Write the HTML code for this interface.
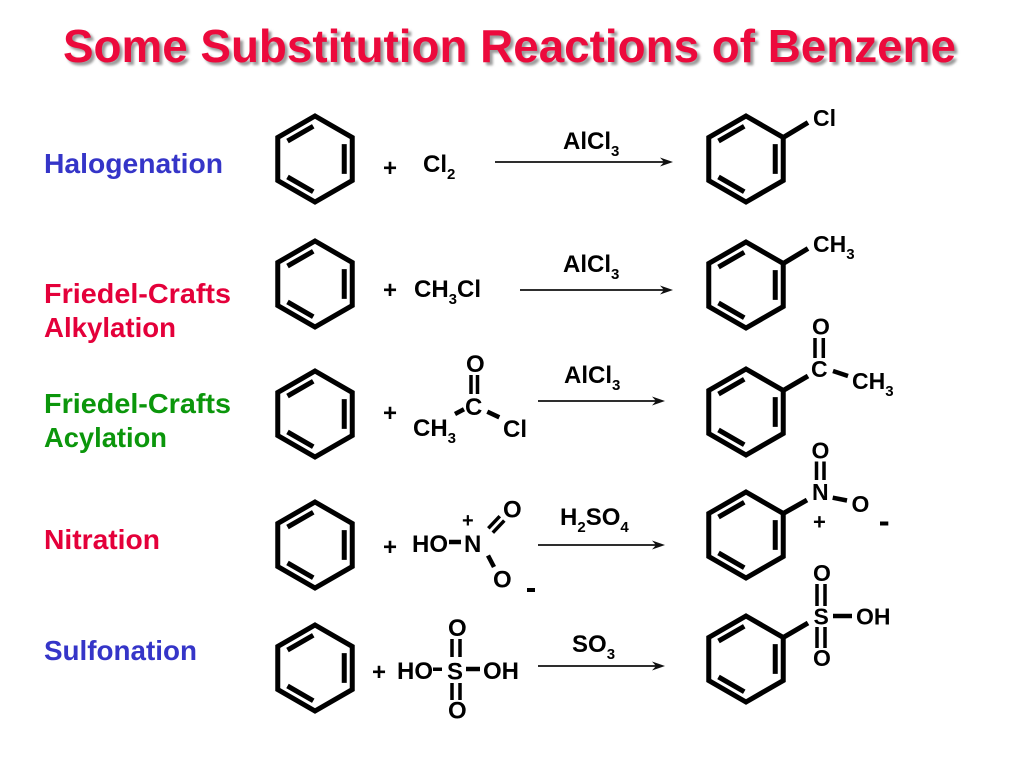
<!DOCTYPE html>
<html>
<head>
<meta charset="utf-8">
<style>
  html,body{margin:0;padding:0;background:#fff;}
  svg{display:block;}
  .t{font-family:"Liberation Sans",Arial,sans-serif;font-weight:bold;fill:#000;}
  .ring path{fill:none;stroke:#000;stroke-width:5;stroke-linejoin:miter;}
  .b{stroke:#000;stroke-width:5;fill:none;}
  .bt{stroke:#000;stroke-width:3.5;fill:none;}
  .ar{stroke:#111;stroke-width:1.7;fill:none;}
  .ah{fill:#111;stroke:none;}
</style>
</head>
<body>
<svg width="1024" height="768" viewBox="0 0 1024 768" xmlns="http://www.w3.org/2000/svg">
  <defs>
    <filter id="blur" x="-5%" y="-20%" width="110%" height="140%">
      <feGaussianBlur stdDeviation="1.2"/>
    </filter>
  </defs>
  <rect width="1024" height="768" fill="#fff"/>

  <!-- Title -->
  <text class="t" x="66" y="65" font-size="46" textLength="893" lengthAdjust="spacingAndGlyphs" style="fill:#9a9a9a" filter="url(#blur)">Some Substitution Reactions of Benzene</text>
  <text class="t" x="63" y="62" font-size="46" textLength="893" lengthAdjust="spacingAndGlyphs" style="fill:#EC0A3C">Some Substitution Reactions of Benzene</text>

  <!-- Left labels -->
  <text class="t" x="44" y="173" font-size="28" textLength="179" lengthAdjust="spacingAndGlyphs" style="fill:#3535C8">Halogenation</text>
  <text class="t" x="44" y="303" font-size="28" textLength="187" lengthAdjust="spacingAndGlyphs" style="fill:#E4003A">Friedel-Crafts</text>
  <text class="t" x="44" y="337" font-size="28" textLength="132" lengthAdjust="spacingAndGlyphs" style="fill:#E4003A">Alkylation</text>
  <text class="t" x="44" y="413" font-size="28" textLength="187" lengthAdjust="spacingAndGlyphs" style="fill:#0B960B">Friedel-Crafts</text>
  <text class="t" x="44" y="447" font-size="28" textLength="123" lengthAdjust="spacingAndGlyphs" style="fill:#0B960B">Acylation</text>
  <text class="t" x="44" y="549" font-size="28" textLength="116" lengthAdjust="spacingAndGlyphs" style="fill:#E4003A">Nitration</text>
  <text class="t" x="44" y="660" font-size="28" textLength="153" lengthAdjust="spacingAndGlyphs" style="fill:#3535C8">Sulfonation</text>

  <!-- Reactant benzene rings -->
  <g class="ring" transform="translate(315,159)">
    <path d="M0,-43 L37.24,-21.5 L37.24,21.5 L0,43 L-37.24,21.5 L-37.24,-21.5 Z"/>
    <path d="M-27.5,-17.9 L-1.75,-32.75 M29.24,-14.9 L29.24,14.9 M-1.75,32.75 L-27.5,17.9"/>
  </g>
  <g class="ring" transform="translate(315,284)">
    <path d="M0,-43 L37.24,-21.5 L37.24,21.5 L0,43 L-37.24,21.5 L-37.24,-21.5 Z"/>
    <path d="M-27.5,-17.9 L-1.75,-32.75 M29.24,-14.9 L29.24,14.9 M-1.75,32.75 L-27.5,17.9"/>
  </g>
  <g class="ring" transform="translate(315,414)">
    <path d="M0,-43 L37.24,-21.5 L37.24,21.5 L0,43 L-37.24,21.5 L-37.24,-21.5 Z"/>
    <path d="M-27.5,-17.9 L-1.75,-32.75 M29.24,-14.9 L29.24,14.9 M-1.75,32.75 L-27.5,17.9"/>
  </g>
  <g class="ring" transform="translate(315,545)">
    <path d="M0,-43 L37.24,-21.5 L37.24,21.5 L0,43 L-37.24,21.5 L-37.24,-21.5 Z"/>
    <path d="M-27.5,-17.9 L-1.75,-32.75 M29.24,-14.9 L29.24,14.9 M-1.75,32.75 L-27.5,17.9"/>
  </g>
  <g class="ring" transform="translate(315,668)">
    <path d="M0,-43 L37.24,-21.5 L37.24,21.5 L0,43 L-37.24,21.5 L-37.24,-21.5 Z"/>
    <path d="M-27.5,-17.9 L-1.75,-32.75 M29.24,-14.9 L29.24,14.9 M-1.75,32.75 L-27.5,17.9"/>
  </g>

  <!-- Product benzene rings -->
  <g class="ring" transform="translate(746,159)">
    <path d="M0,-43 L37.24,-21.5 L37.24,21.5 L0,43 L-37.24,21.5 L-37.24,-21.5 Z"/>
    <path d="M-27.5,-17.9 L-1.75,-32.75 M29.24,-14.9 L29.24,14.9 M-1.75,32.75 L-27.5,17.9"/>
  </g>
  <g class="ring" transform="translate(746,285)">
    <path d="M0,-43 L37.24,-21.5 L37.24,21.5 L0,43 L-37.24,21.5 L-37.24,-21.5 Z"/>
    <path d="M-27.5,-17.9 L-1.75,-32.75 M29.24,-14.9 L29.24,14.9 M-1.75,32.75 L-27.5,17.9"/>
  </g>
  <g class="ring" transform="translate(746,412)">
    <path d="M0,-43 L37.24,-21.5 L37.24,21.5 L0,43 L-37.24,21.5 L-37.24,-21.5 Z"/>
    <path d="M-27.5,-17.9 L-1.75,-32.75 M29.24,-14.9 L29.24,14.9 M-1.75,32.75 L-27.5,17.9"/>
  </g>
  <g class="ring" transform="translate(746,535)">
    <path d="M0,-43 L37.24,-21.5 L37.24,21.5 L0,43 L-37.24,21.5 L-37.24,-21.5 Z"/>
    <path d="M-27.5,-17.9 L-1.75,-32.75 M29.24,-14.9 L29.24,14.9 M-1.75,32.75 L-27.5,17.9"/>
  </g>
  <g class="ring" transform="translate(746,659)">
    <path d="M0,-43 L37.24,-21.5 L37.24,21.5 L0,43 L-37.24,21.5 L-37.24,-21.5 Z"/>
    <path d="M-27.5,-17.9 L-1.75,-32.75 M29.24,-14.9 L29.24,14.9 M-1.75,32.75 L-27.5,17.9"/>
  </g>

  <!-- Arrows -->
  <line class="ar" x1="495" y1="162" x2="664" y2="162"/>
  <path class="ah" d="M673,162 L660,157.5 L664,162 L660,166.5 Z"/>
  <line class="ar" x1="520" y1="290" x2="664" y2="290"/>
  <path class="ah" d="M673,290 L660,285.5 L664,290 L660,294.5 Z"/>
  <line class="ar" x1="538" y1="401" x2="656" y2="401"/>
  <path class="ah" d="M665,401 L652,396.5 L656,401 L652,405.5 Z"/>
  <line class="ar" x1="538" y1="545" x2="656" y2="545"/>
  <path class="ah" d="M665,545 L652,540.5 L656,545 L652,549.5 Z"/>
  <line class="ar" x1="538" y1="666" x2="656" y2="666"/>
  <path class="ah" d="M665,666 L652,661.5 L656,666 L652,670.5 Z"/>

  <!-- Catalysts -->
  <text class="t" x="563" y="149" font-size="24">AlCl<tspan font-size="15" dy="7">3</tspan></text>
  <text class="t" x="563" y="272" font-size="24">AlCl<tspan font-size="15" dy="7">3</tspan></text>
  <text class="t" x="564" y="383" font-size="24">AlCl<tspan font-size="15" dy="7">3</tspan></text>
  <text class="t" x="560" y="525" font-size="24">H<tspan font-size="15" dy="7">2</tspan><tspan dy="-7">SO</tspan><tspan font-size="15" dy="7">4</tspan></text>
  <text class="t" x="572" y="652" font-size="24">SO<tspan font-size="15" dy="7">3</tspan></text>

  <!-- Row 1 reactants -->
  <text class="t" x="383" y="176" font-size="24">+</text>
  <text class="t" x="423" y="172" font-size="24">Cl<tspan font-size="15" dy="7">2</tspan></text>

  <!-- Row 2 reactants -->
  <text class="t" x="383" y="298" font-size="24">+</text>
  <text class="t" x="414" y="297" font-size="24">CH<tspan font-size="15" dy="7">3</tspan><tspan dy="-7">Cl</tspan></text>

  <!-- Row 3 reactants -->
  <text class="t" x="383" y="421" font-size="24">+</text>
  <text class="t" x="466" y="372" font-size="24">O</text>
  <line class="bt" x1="471" y1="375" x2="471" y2="394"/>
  <line class="bt" x1="477.5" y1="375" x2="477.5" y2="394"/>
  <text class="t" x="465" y="415" font-size="24">C</text>
  <text class="t" x="413" y="436" font-size="24">CH<tspan font-size="15" dy="7">3</tspan></text>
  <text class="t" x="503" y="437" font-size="24">Cl</text>
  <line x1="455" y1="414" x2="464" y2="409.3" stroke="#000" stroke-width="4.5"/>
  <line x1="487.3" y1="411.7" x2="499.3" y2="417.3" stroke="#000" stroke-width="4.5"/>

  <!-- Row 4 reactants -->
  <text class="t" x="383" y="555" font-size="24">+</text>
  <text class="t" x="412" y="552" font-size="24">HO</text>
  <line x1="449" y1="542" x2="461" y2="542" stroke="#000" stroke-width="4.5"/>
  <text class="t" x="464" y="552" font-size="24">N</text>
  <text class="t" x="462" y="527" font-size="20">+</text>
  <line class="bt" x1="488.3" y1="528.3" x2="499.8" y2="516.2"/>
  <line class="bt" x1="492.8" y1="532.7" x2="504.3" y2="520.6"/>
  <text class="t" x="503" y="517.5" font-size="24">O</text>
  <line x1="488" y1="555.5" x2="494" y2="567" stroke="#000" stroke-width="4.5"/>
  <text class="t" x="493" y="587.5" font-size="24">O</text>
  <rect x="527" y="588" width="8" height="4" fill="#000"/>

  <!-- Row 5 reactants -->
  <text class="t" x="372" y="680" font-size="24">+</text>
  <text class="t" x="397" y="679" font-size="24">HO</text>
  <rect x="433" y="667.5" width="9" height="3.5" fill="#000"/>
  <text class="t" x="447" y="679.5" font-size="24">S</text>
  <line x1="466" y1="669" x2="480" y2="669" stroke="#000" stroke-width="4.5"/>
  <text class="t" x="483" y="679" font-size="24">OH</text>
  <text class="t" x="448" y="636" font-size="24">O</text>
  <text class="t" x="448" y="718.5" font-size="24">O</text>
  <line class="bt" x1="452" y1="639" x2="452" y2="657"/>
  <line class="bt" x1="460" y1="639" x2="460" y2="657"/>
  <line class="bt" x1="452" y1="683" x2="452" y2="700"/>
  <line class="bt" x1="460" y1="683" x2="460" y2="700"/>

  <!-- Product 1: chlorobenzene -->
  <line class="b" x1="783.2" y1="137.5" x2="808" y2="122.5"/>
  <text class="t" x="813" y="126" font-size="23">Cl</text>

  <!-- Product 2: toluene -->
  <line class="b" x1="783.2" y1="263.5" x2="808" y2="248.5"/>
  <text class="t" x="813" y="252" font-size="23">CH<tspan font-size="15" dy="7">3</tspan></text>

  <!-- Product 3: acetophenone -->
  <line class="b" x1="783.2" y1="390.5" x2="808" y2="376"/>
  <text class="t" x="811" y="377" font-size="23">C</text>
  <text class="t" x="812" y="334.5" font-size="23">O</text>
  <line class="bt" x1="815" y1="338" x2="815" y2="358"/>
  <line class="bt" x1="823.3" y1="338" x2="823.3" y2="358"/>
  <line x1="833" y1="371" x2="848" y2="376" stroke="#000" stroke-width="4.5"/>
  <text class="t" x="852" y="389" font-size="23">CH<tspan font-size="15" dy="7">3</tspan></text>

  <!-- Product 4: nitrobenzene -->
  <line class="b" x1="783.2" y1="513.5" x2="807" y2="500"/>
  <text class="t" x="812" y="500" font-size="23">N</text>
  <text class="t" x="811.5" y="458.5" font-size="23">O</text>
  <line class="bt" x1="816.5" y1="461.5" x2="816.5" y2="480"/>
  <line class="bt" x1="824" y1="461.5" x2="824" y2="480"/>
  <line x1="832.7" y1="497.7" x2="847" y2="500.5" stroke="#000" stroke-width="4.5"/>
  <text class="t" x="851.5" y="512" font-size="23">O</text>
  <text class="t" x="813" y="529.5" font-size="22">+</text>
  <rect x="880" y="521.5" width="8.3" height="4" fill="#000"/>

  <!-- Product 5: benzenesulfonic acid -->
  <line class="b" x1="783.2" y1="637.5" x2="808" y2="623"/>
  <text class="t" x="813.5" y="624.5" font-size="23">S</text>
  <text class="t" x="813" y="581" font-size="23">O</text>
  <text class="t" x="813" y="666" font-size="23">O</text>
  <line class="bt" x1="817" y1="584" x2="817" y2="606"/>
  <line class="bt" x1="825" y1="584" x2="825" y2="606"/>
  <line class="bt" x1="817" y1="627" x2="817" y2="648"/>
  <line class="bt" x1="825" y1="627" x2="825" y2="648"/>
  <line x1="833" y1="616" x2="852" y2="616" stroke="#000" stroke-width="4.5"/>
  <text class="t" x="856" y="624.5" font-size="23">OH</text>
</svg>
</body>
</html>
